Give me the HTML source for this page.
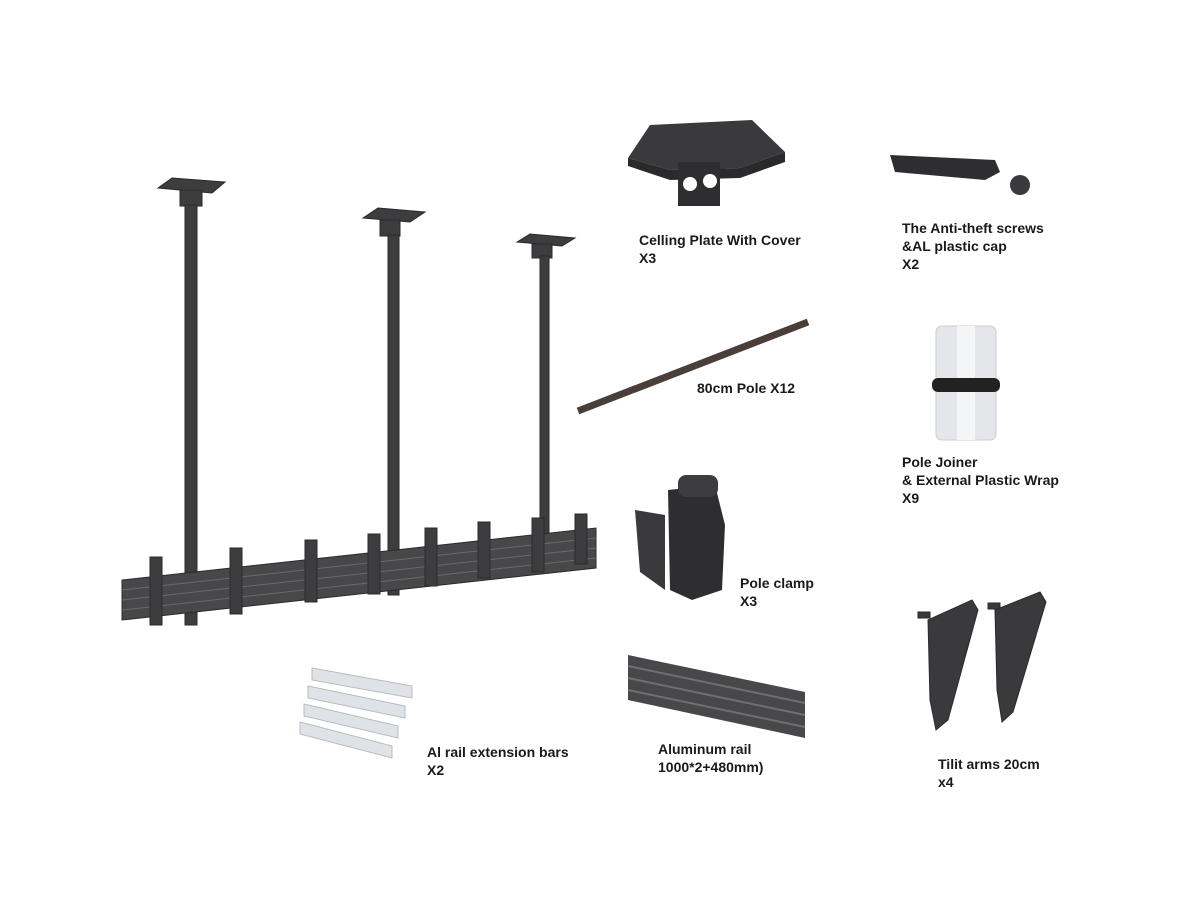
<!DOCTYPE html>
<html><head><meta charset="utf-8"><style>
html,body{margin:0;padding:0;background:#fff;width:1200px;height:900px;overflow:hidden}
svg{display:block}
text{font-family:"Liberation Sans",sans-serif;font-weight:bold;font-size:14px;fill:#1a1a1a}
</style></head><body>
<svg width="1200" height="900" viewBox="0 0 1200 900" xmlns="http://www.w3.org/2000/svg">
<g fill="#3d3d3f" stroke="#2a2a2a" stroke-width="1">
  <polygon points="158,188 172,178 225,182 212,193"/>
  <rect x="180" y="190" width="22" height="16"/>
  <polygon points="363,218 378,208 425,212 410,222"/>
  <rect x="380" y="220" width="20" height="16"/>
  <polygon points="517,242 530,234 575,238 562,246"/>
  <rect x="532" y="244" width="20" height="14"/>
  <rect x="185" y="205" width="12" height="420"/>
  <rect x="388" y="235" width="11" height="360"/>
  <rect x="540" y="256" width="9" height="315"/>
  <polygon points="122,580 596,528 596,568 122,620" fill="#48484a"/>
  <line x1="122" y1="590" x2="596" y2="538" stroke="#6a6a6a"/>
  <line x1="122" y1="600" x2="596" y2="548" stroke="#6a6a6a"/>
  <line x1="122" y1="610" x2="596" y2="558" stroke="#6a6a6a"/>
  <rect x="150" y="557" width="12" height="68"/>
  <rect x="230" y="548" width="12" height="66"/>
  <rect x="305" y="540" width="12" height="62"/>
  <rect x="368" y="534" width="12" height="60"/>
  <rect x="425" y="528" width="12" height="58"/>
  <rect x="478" y="522" width="12" height="56"/>
  <rect x="532" y="518" width="12" height="54"/>
  <rect x="575" y="514" width="12" height="50"/>
</g>

<polygon points="628,158 650,125 752,120 785,152 740,168 670,170" fill="#3a3a3c"/>
<polygon points="628,158 670,170 740,168 785,152 785,162 740,178 670,180 628,166" fill="#2a2a2c"/>
<rect x="678" y="162" width="42" height="44" fill="#2e2e30"/>
<circle cx="690" cy="184" r="7" fill="#fff"/><circle cx="710" cy="181" r="7" fill="#fff"/>
<text x="639" y="245">Celling Plate With Cover</text>
<text x="639" y="263">X3</text>

<polygon points="890,155 995,160 1000,172 985,180 895,172" fill="#2e2e30"/>
<circle cx="1020" cy="185" r="10" fill="#3a3a3c"/>
<text x="902" y="233">The Anti-theft screws</text>
<text x="902" y="251">&amp;AL plastic cap</text>
<text x="902" y="269">X2</text>

<line x1="578" y1="411" x2="808" y2="322" stroke="#4a3e38" stroke-width="7"/>
<text x="697" y="393">80cm Pole X12</text>

<rect x="936" y="326" width="60" height="114" rx="6" fill="#e4e6ea" stroke="#c8ccd2"/>
<rect x="957" y="326" width="18" height="114" fill="#f4f5f7"/>
<rect x="932" y="378" width="68" height="14" rx="6" fill="#222"/>
<text x="902" y="467">Pole Joiner</text>
<text x="902" y="485">&amp; External Plastic Wrap</text>
<text x="902" y="503">X9</text>

<polygon points="635,510 665,515 665,590 640,572" fill="#3a3a3c"/>
<polygon points="668,490 715,485 725,525 722,590 692,600 670,590" fill="#2e2e30"/>
<rect x="678" y="475" width="40" height="22" rx="8" fill="#3d3d3f"/>
<text x="740" y="588">Pole clamp</text>
<text x="740" y="606">X3</text>

<polygon points="628,655 805,692 805,738 628,700" fill="#48484a"/>
<line x1="628" y1="666" x2="805" y2="703" stroke="#707072" stroke-width="2"/>
<line x1="628" y1="678" x2="805" y2="715" stroke="#707072" stroke-width="2"/>
<line x1="628" y1="690" x2="805" y2="727" stroke="#707072" stroke-width="2"/>
<text x="658" y="754">Aluminum rail</text>
<text x="658" y="772">1000*2+480mm)</text>

<g fill="#dfe2e6" stroke="#b8bcc2">
  <polygon points="312,668 412,686 412,698 312,680"/>
  <polygon points="308,686 405,706 405,718 308,698"/>
  <polygon points="304,704 398,726 398,738 304,716"/>
  <polygon points="300,722 392,746 392,758 300,734"/>
</g>
<text x="427" y="757">Al rail extension bars</text>
<text x="427" y="775">X2</text>

<g fill="#3a3a3c" stroke="#2a2a2a">
  <polygon points="928,620 972,600 978,610 948,720 936,730 930,700"/>
  <polygon points="995,610 1040,592 1046,602 1013,712 1002,722 997,690"/>
  <rect x="918" y="612" width="12" height="6"/>
  <rect x="988" y="603" width="12" height="6"/>
</g>
<text x="938" y="769">Tilit arms 20cm</text>
<text x="938" y="787">x4</text>
</svg>
</body></html>
